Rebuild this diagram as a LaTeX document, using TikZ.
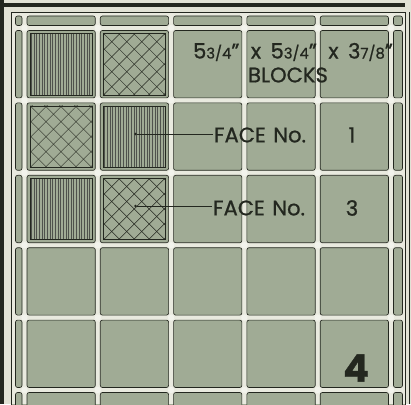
\documentclass[tikz,border=0pt]{standalone}
\usepackage{fontspec}
\newfontfamily\platefont[FakeBold=0.9]{Poppins}
\usetikzlibrary{positioning}

\definecolor{paper}{HTML}{E1E2D5}
\definecolor{panel}{HTML}{A0AB95}
\definecolor{ink}{HTML}{23271F}
\definecolor{mortar}{HTML}{E9EADF}

\begin{document}
\begin{tikzpicture}[x=0.5mm, y=-0.5mm,
    block/.style={rounded corners=3, draw=ink, fill=panel, line width=0.9pt},
    hatchedge/.style={draw=ink, line width=0.7pt},
    vline/.style={ink!80, line width=0.42pt},
    xline/.style={ink, line width=0.7pt},
    facedot/.style={circle, fill=ink, inner sep=0pt, minimum size=4pt},
    plate/.style={font=\platefont\fontsize{30}{31}\selectfont, text=ink, inner sep=1pt}]

  \useasboundingbox (0,0) rectangle (411,404);
  \fill[paper] (0,0) rectangle (411,404);

  % frame
  \fill[ink] (0,0) rectangle (4,404);
  \fill[ink] (0,3.5) rectangle (405,7);
  \draw[block, rounded corners=0, line width=0.8pt] (11.5,12.5) rectangle (405,420);
  \draw[ink, line width=0.8pt] (409.5,12.5) -- (409.5,404);

  % mortar and blocks
  \fill[mortar] (12,13) rectangle (404.5,404);
  \foreach \c in {-1,...,5}{
    \foreach \r in {-1,...,5}{
      \pgfmathsetmacro\xa{max(24.5+73.3*\c+2.5,15.5)}
      \pgfmathsetmacro\xb{min(24.5+73.3*(\c+1)-2.5,402.5)}
      \pgfmathsetmacro\ya{max(28+72.4*\r+2.5,16)}
      \pgfmathsetmacro\yb{min(28+72.4*(\r+1)-2.5,425)}
      \draw[block] (\xa,\ya) rectangle (\xb,\yb);
    }
  }
  \foreach \c in {0,...,5}
    \foreach \r in {0,...,5}
      \fill[mortar!60!white] (24.5+73.3*\c,28+72.4*\r) circle (3.2);

  % lined faces
  \foreach \c/\r in {0/0,1/1,0/2}{
    \pgfmathsetmacro\xa{24.5+73.3*\c+5.5}
    \pgfmathsetmacro\ya{28+72.4*\r+5.5}
    \begin{scope}
      \clip (\xa,\ya) rectangle ++(62.3,61.4);
      \foreach \k in {0,...,23}
        \draw[vline] (\xa+1.2+\k*2.65,\ya) -- ++(0,62);
    \end{scope}
    \draw[hatchedge] (\xa,\ya) rectangle ++(62.3,61.4);
  }

  % cross-hatched faces
  \foreach \c/\r in {1/0,0/1,1/2}{
    \pgfmathsetmacro\xa{24.5+73.3*\c+5.5}
    \pgfmathsetmacro\ya{28+72.4*\r+5.5}
    \begin{scope}
      \clip (\xa,\ya) rectangle ++(62.3,61.4);
      \foreach \k in {-5,...,5}{
        \draw[xline] (\xa+31+\k*15-40,\ya+30.7-40) -- ++(80,80);
        \draw[xline] (\xa+31+\k*15-40,\ya+30.7+40) -- ++(80,-80);
      }
    \end{scope}
    \draw[hatchedge] (\xa,\ya) rectangle ++(62.3,61.4);
  }

  % labels
  \node[plate] (size) at (293,52)
    {5{\fontsize{21}{22}\selectfont 3/4}”\hspace{0.55em}x\hspace{0.45em}5{\fontsize{21}{22}\selectfont 3/4}”\hspace{0.55em}x\hspace{0.45em}3{\fontsize{21}{22}\selectfont 7/8}”};
  \node[plate] (blocks) at (288,75) {BLOCKS};

  \node[plate] (face1) at (260,135) {FACE\hspace{0.35em}No.};
  \node[plate] (num1) at (352,135) {1};
  \node[plate] (face3) at (259,208) {FACE\hspace{0.35em}No.};
  \node[plate] (num3) at (352,208) {3};

  \node[plate, font=\platefont\fontsize{54}{54}\selectfont\bfseries] (num4) at (356,368) {4};

  \node[facedot] (dot1) at (135.5,134) {};
  \node[facedot] (dot3) at (135.5,206) {};
  \draw[ink, line width=0.9pt] (dot1) -- (dot1 -| face1.west);
  \draw[ink, line width=0.9pt] (dot3) -- (dot3 -| face3.west);

\end{tikzpicture}
\end{document}
